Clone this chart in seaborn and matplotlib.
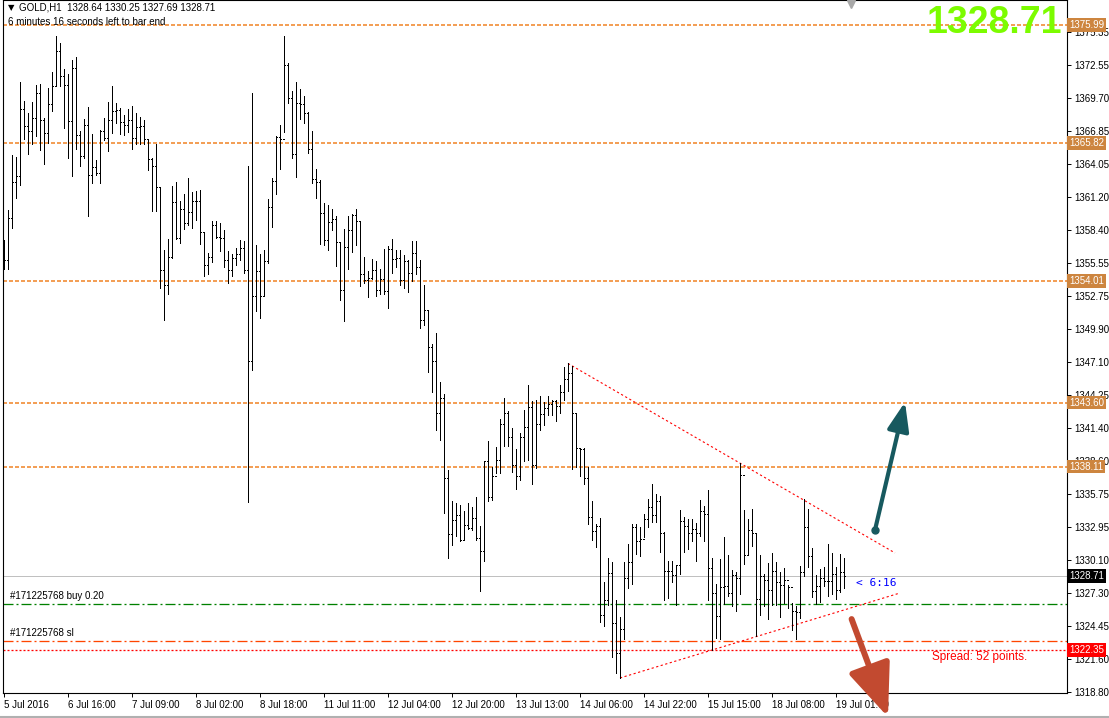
import numpy as np
import pandas as pd
import seaborn as sns
import matplotlib
matplotlib.use("Agg")
import matplotlib.pyplot as plt
import matplotlib.transforms as mtransforms
from matplotlib.lines import Line2D

# ---------------- data ----------------
highs = [1357.55, 1360.12, 1364.83, 1364.66, 1371.09, 1369.46, 1368.43, 1369.38, 1370.83, 1370.95,
         1368.03, 1370.58, 1371.95, 1375.03, 1374.43, 1372.18, 1371.81, 1372.98, 1373.23, 1366.89,
         1367.92, 1368.95, 1366.63, 1364.43, 1367.01, 1368.01, 1369.41, 1370.75, 1369.32, 1368.83,
         1368.23, 1368.75, 1369.03, 1368.43, 1368.06, 1367.83, 1366.23, 1364.55, 1365.78, 1362.09,
         1356.69, 1357.61, 1362.21, 1362.52, 1360.89, 1361.49, 1362.86, 1361.69, 1361.75, 1361.83,
         1358.21, 1356.43, 1359.15, 1359.18, 1359.03, 1358.41, 1356.61, 1356.38, 1356.89, 1357.55,
         1357.46, 1363.89, 1370.18, 1357.12, 1356.38, 1356.66, 1361.09, 1362.86, 1366.49, 1367.41,
         1375.03, 1372.75, 1370.32, 1371.09, 1370.49, 1369.89, 1368.55, 1366.89, 1363.63, 1362.66,
         1360.72, 1360.58, 1360.18, 1359.61, 1357.38, 1358.49, 1359.61, 1359.75, 1360.21, 1359.06,
         1356.09, 1354.89, 1355.92, 1355.78, 1355.01, 1356.78, 1357.03, 1357.63, 1356.66, 1356.69,
         1356.26, 1355.81, 1357.46, 1357.46, 1355.86, 1353.72, 1351.52, 1348.64, 1349.58, 1345.38,
         1344.35, 1337.81, 1335.15, 1335.01, 1334.84, 1334.32, 1335.01, 1334.67, 1335.52, 1333.04,
         1338.61, 1340.32, 1338.04, 1339.81, 1342.18, 1344.01, 1342.87, 1341.41, 1339.58, 1340.98,
         1342.98, 1345.12, 1343.72, 1343.84, 1344.18, 1343.67, 1344.18, 1343.78, 1343.81, 1345.12,
         1346.61, 1346.95, 1346.72, 1342.72, 1339.67, 1339.67, 1338.04, 1335.18, 1333.18, 1333.67,
         1328.18, 1330.29, 1329.95, 1326.69, 1325.18, 1329.89, 1331.47, 1333.18, 1333.18, 1332.89,
         1334.03, 1335.32, 1336.60, 1335.75, 1335.60, 1332.46, 1330.03, 1330.03, 1329.69, 1334.40,
         1333.80, 1333.60, 1333.60, 1333.23, 1335.26, 1334.69, 1336.12, 1330.29, 1328.03, 1330.18,
         1332.06, 1330.55, 1329.26, 1329.03, 1338.40, 1334.35, 1333.60, 1334.49, 1332.38, 1330.55,
         1328.89, 1329.80, 1330.66, 1329.92, 1329.09, 1329.40, 1327.92, 1326.43, 1326.12, 1329.60,
         1335.35, 1334.49, 1331.09, 1328.83, 1329.32, 1329.46, 1331.43, 1330.66, 1329.46, 1330.60,
         1330.25]
lows = [1355.03, 1355.03, 1358.61, 1361.18, 1362.23, 1366.23, 1364.89, 1365.81, 1366.43, 1365.23,
        1364.09, 1365.89, 1368.58, 1370.81, 1370.78, 1367.18, 1364.61, 1363.06, 1365.32, 1363.92,
        1364.61, 1359.63, 1362.46, 1363.09, 1362.46, 1366.09, 1365.21, 1366.75, 1367.61, 1366.66,
        1366.58, 1366.78, 1365.32, 1365.75, 1365.81, 1365.75, 1363.58, 1360.06, 1360.06, 1353.38,
        1350.66, 1352.95, 1356.01, 1357.61, 1357.32, 1358.46, 1358.86, 1358.61, 1359.23, 1357.23,
        1354.41, 1354.66, 1355.63, 1357.75, 1356.61, 1355.26, 1353.89, 1354.41, 1355.43, 1355.81,
        1354.75, 1335.03, 1346.43, 1351.49, 1350.89, 1352.72, 1355.55, 1358.69, 1361.52, 1363.66,
        1366.78, 1369.26, 1364.55, 1362.98, 1367.92, 1367.55, 1365.03, 1362.43, 1361.18, 1357.23,
        1357.12, 1356.69, 1358.43, 1355.32, 1352.43, 1350.55, 1355.06, 1356.55, 1357.12, 1353.61,
        1353.89, 1352.66, 1354.23, 1352.75, 1352.95, 1352.95, 1351.69, 1354.72, 1355.23, 1353.69,
        1353.46, 1353.12, 1354.03, 1354.61, 1350.03, 1350.29, 1346.18, 1344.47, 1341.21, 1340.35,
        1334.09, 1330.24, 1331.38, 1332.15, 1331.75, 1331.89, 1332.72, 1332.64, 1331.84, 1327.41,
        1330.04, 1335.18, 1335.24, 1337.58, 1337.55, 1339.84, 1339.87, 1337.61, 1336.15, 1336.95,
        1338.61, 1338.67, 1336.58, 1337.95, 1341.21, 1341.67, 1342.52, 1342.55, 1341.98, 1342.69,
        1343.84, 1344.55, 1337.87, 1338.07, 1337.27, 1336.58, 1333.15, 1331.78, 1331.18, 1324.75,
        1324.41, 1326.27, 1321.75, 1320.38, 1319.98, 1323.32, 1327.67, 1328.04, 1330.61, 1330.46,
        1332.03, 1332.89, 1333.32, 1333.32, 1330.75, 1326.66, 1326.83, 1328.18, 1326.26, 1328.89,
        1330.75, 1331.03, 1331.75, 1330.03, 1332.18, 1331.75, 1326.66, 1322.38, 1323.38, 1323.29,
        1326.29, 1327.03, 1326.18, 1325.69, 1327.18, 1329.75, 1330.60, 1331.26, 1323.55, 1325.40,
        1326.18, 1325.00, 1326.20, 1326.23, 1325.23, 1326.43, 1325.98, 1324.09, 1323.29, 1325.12,
        1328.69, 1329.46, 1326.89, 1326.32, 1326.52, 1327.89, 1326.98, 1327.18, 1326.72, 1327.38,
        1327.69]
closes = [1355.81, 1359.41, 1362.52, 1363.03, 1368.75, 1367.29, 1366.89, 1368.01, 1370.12, 1367.81,
          1366.72, 1369.21, 1370.72, 1373.72, 1371.58, 1370.83, 1367.78, 1372.26, 1366.52, 1364.75,
          1367.43, 1363.09, 1363.81, 1363.32, 1366.86, 1366.32, 1367.81, 1368.61, 1368.66, 1367.69,
          1367.38, 1367.83, 1366.26, 1367.23, 1367.29, 1366.18, 1364.46, 1363.86, 1362.09, 1354.95,
          1353.69, 1356.06, 1360.78, 1357.72, 1360.23, 1359.01, 1359.92, 1360.86, 1360.86, 1358.21,
          1355.38, 1356.09, 1358.83, 1357.81, 1357.75, 1355.81, 1354.98, 1355.98, 1356.32, 1356.86,
          1354.98, 1347.18, 1352.75, 1354.89, 1352.75, 1355.75, 1360.38, 1362.58, 1366.38, 1366.23,
          1372.55, 1369.75, 1364.89, 1369.26, 1369.18, 1368.46, 1365.32, 1362.75, 1362.49, 1359.83,
          1357.52, 1359.06, 1359.35, 1357.38, 1353.21, 1356.92, 1358.38, 1359.69, 1359.15, 1354.61,
          1354.09, 1354.29, 1354.95, 1353.29, 1354.18, 1353.18, 1356.75, 1355.89, 1356.01, 1354.09,
          1355.75, 1354.69, 1356.41, 1355.23, 1350.66, 1351.52, 1348.32, 1347.15, 1342.69, 1344.01,
          1337.12, 1332.32, 1333.55, 1333.95, 1331.81, 1333.09, 1332.81, 1333.72, 1332.01, 1330.89,
          1338.55, 1335.47, 1337.29, 1338.69, 1341.78, 1342.69, 1340.67, 1338.24, 1337.27, 1340.67,
          1341.47, 1343.24, 1338.24, 1341.78, 1342.61, 1343.15, 1343.44, 1343.75, 1343.29, 1344.49,
          1345.61, 1346.15, 1342.67, 1339.67, 1339.61, 1337.15, 1333.81, 1332.61, 1332.98, 1325.38,
          1326.67, 1328.98, 1324.69, 1322.15, 1324.21, 1328.55, 1329.89, 1332.92, 1331.69, 1331.92,
          1333.60, 1334.60, 1333.98, 1335.18, 1332.43, 1329.18, 1329.18, 1328.80, 1329.69, 1333.46,
          1333.03, 1332.40, 1332.75, 1332.38, 1334.32, 1334.00, 1329.40, 1327.26, 1325.29, 1327.80,
          1327.89, 1327.26, 1328.80, 1328.55, 1337.38, 1330.55, 1332.63, 1332.38, 1326.75, 1328.72,
          1328.40, 1327.52, 1329.18, 1328.20, 1327.98, 1328.40, 1327.80, 1325.69, 1325.63, 1329.09,
          1332.95, 1330.40, 1327.46, 1327.89, 1328.52, 1328.26, 1328.26, 1328.89, 1327.55, 1329.03,
          1328.71]
first_open = 1355.89

x_tick_bars = [0, 16, 32, 48, 64, 80, 96, 112, 128, 144, 160, 176, 192, 208]
x_tick_labels = ["5 Jul 2016", "6 Jul 16:00", "7 Jul 09:00", "8 Jul 02:00", "8 Jul 18:00",
                 "11 Jul 11:00", "12 Jul 04:00", "12 Jul 20:00", "13 Jul 13:00", "14 Jul 06:00",
                 "14 Jul 22:00", "15 Jul 15:00", "18 Jul 08:00", "19 Jul 01:00"]
y_ticks = [1318.80, 1321.60, 1324.45, 1327.30, 1330.10, 1332.95, 1335.75, 1338.60, 1341.40,
           1344.25, 1347.10, 1349.90, 1352.75, 1355.55, 1358.40, 1361.20, 1364.05, 1366.85,
           1369.70, 1372.55, 1375.35]

level_prices = [1375.99, 1365.82, 1354.01, 1343.60, 1338.11]
bid_price = 1328.71
buy_price = 1326.30
sl_price = 1323.15
ask_price = 1322.35

upper_trend_x = [141, 222.75]
upper_trend_y = [1346.95, 1330.70]
lower_trend_x = [154, 223.75]
lower_trend_y = [1319.98, 1327.24]
up_arrow_x = [217.75, 225.25]
up_arrow_y = [1332.67, 1343.64]
down_arrow_x = [211.9, 221.0]
down_arrow_y = [1325.03, 1316.63]

header = "GOLD,H1  1328.64 1330.25 1327.69 1328.71"
timer_text = "6 minutes 16 seconds left to bar end"

# ---------------- styling ----------------
sns.set_theme(style="white")
plt.rcParams['font.family'] = ['Liberation Sans', 'DejaVu Sans']
plt.rcParams['lines.scale_dashes'] = False

W, H = 1109, 718
PX = 72.0 / 100.0  # one pixel in points
fig = plt.figure(figsize=(W / 100, H / 100), dpi=100)
fig.patch.set_facecolor('white')
ax = fig.add_axes([3 / W, 25 / H, 1064 / W, 693 / H])
ax.set_facecolor('white')
ax.set_xlim(-0.25, 265.75)
ax.set_ylim(1318.69, 1378.12)

df = pd.DataFrame({'high': highs, 'low': lows, 'close': closes})
df['open'] = [first_open] + closes[:-1]
idx = np.arange(len(df))

# OHLC bars
ax.vlines(idx, df['low'], df['high'], color='black', lw=PX, antialiased=False, zorder=3)
ax.hlines(df['open'], idx - 0.26, idx, color='black', lw=PX, antialiased=False, zorder=3)
ax.hlines(df['close'], idx, idx + 0.26, color='black', lw=PX, antialiased=False, zorder=3)

# horizontal levels
ORANGE = '#F08020'
for p in level_prices:
    ax.axhline(p, color=ORANGE, lw=1.5 * PX, dashes=(4 * PX, 2 * PX), zorder=2)
ax.axhline(bid_price, color='#C0C0C0', lw=PX, zorder=1).set_snap(True)
ax.axhline(buy_price, color='#008000', lw=1.3 * PX, dashes=(10 * PX, 3 * PX, 2 * PX, 3 * PX),
           zorder=2)
ax.axhline(sl_price, color='#FF4500', lw=1.3 * PX, dashes=(10 * PX, 3 * PX, 2 * PX, 3 * PX),
           zorder=2)
ax.axhline(ask_price, color='#FF0000', lw=1.3 * PX, dashes=(2 * PX, 2 * PX), zorder=2)

# trend lines
ax.plot(upper_trend_x, upper_trend_y, color='#FF0000', lw=0.8, dashes=(1.6, 1.8), zorder=2)
ax.plot(lower_trend_x, lower_trend_y, color='#FF0000', lw=0.8, dashes=(1.6, 1.8), zorder=2)

# arrows
ax.annotate('', xy=(up_arrow_x[1], up_arrow_y[1]), xytext=(up_arrow_x[0], up_arrow_y[0]),
            arrowprops=dict(arrowstyle='-|>,head_length=1.45,head_width=0.55', lw=3.0,
                            color='#17595F', shrinkA=0, shrinkB=0, clip_on=False),
            annotation_clip=False, zorder=6)
ax.plot(up_arrow_x[0], up_arrow_y[0], marker='o', ms=5, color='#17595F', zorder=6)
ax.annotate('', xy=(down_arrow_x[1], down_arrow_y[1]), xytext=(down_arrow_x[0], down_arrow_y[0]),
            arrowprops=dict(arrowstyle='-|>,head_length=2.7,head_width=1.1', lw=4.3,
                            color='#C24A30', shrinkA=0, shrinkB=0, clip_on=False),
            annotation_clip=False, zorder=6)

# axes & ticks
for s in ax.spines.values():
    s.set_color('black')
    s.set_linewidth(0.8)
ax.yaxis.tick_right()
ax.set_yticks(y_ticks)
ax.set_yticklabels([f"{v:.2f}" for v in y_ticks])
ax.tick_params(axis='y', labelsize=7, length=3, width=0.7, pad=2, direction='out',
               colors='black', right=True, left=False)
ax.set_xticks(x_tick_bars)
ax.set_xticklabels(x_tick_labels, ha='left')
ax.tick_params(axis='x', labelsize=7, length=3, width=0.7, pad=2, direction='out',
               colors='black', bottom=True)
for lab in ax.get_xticklabels():
    lab.set_horizontalalignment('left')
ax.grid(False)

# price boxes on the scale
trans = mtransforms.blended_transform_factory(ax.transAxes, ax.transData)
for p in level_prices:
    ax.text(1.0018, p, f"{p:.2f}", transform=trans, ha='left', va='center', fontsize=7,
            color='white', clip_on=False, zorder=10,
            bbox=dict(boxstyle='square,pad=0.2', fc='#CD853F', ec='none'))
ax.text(1.0018, bid_price, f"{bid_price:.2f}", transform=trans, ha='left', va='center',
        fontsize=7, color='white', clip_on=False, zorder=10,
        bbox=dict(boxstyle='square,pad=0.2', fc='black', ec='none'))
ax.text(1.0018, ask_price, f"{ask_price:.2f}", transform=trans, ha='left', va='center',
        fontsize=7, color='white', clip_on=False, zorder=10,
        bbox=dict(boxstyle='square,pad=0.2', fc='#FF0000', ec='none'))

# texts
fig.text(8 / W, 1 - 8 / H, "▼", fontsize=6, color='black', va='center', ha='left',
         family=['DejaVu Sans'])
fig.text(19 / W, 1 - 8 / H, header, fontsize=7, color='black', va='center', ha='left')
fig.text(8 / W, 1 - 22 / H, timer_text, fontsize=7, color='black', va='center', ha='left')
fig.text(1062 / W, 1 - 23 / H, f"{bid_price:.2f}", fontsize=27, fontweight='bold',
         color='#7CFC00', va='center', ha='right')
ax.text(0.0065, buy_price + 0.25, "#171225768 buy 0.20", transform=trans, fontsize=7,
        color='black', va='bottom', ha='left')
ax.text(0.0065, sl_price + 0.25, "#171225768 sl", transform=trans, fontsize=7,
        color='black', va='bottom', ha='left')
ax.text(213, 1328.15, "< 6:16", fontsize=8, color='#0000FF', va='center', ha='left',
        family=['DejaVu Sans Mono'])
ax.text(0.873, 1321.75, "Spread: 52 points.", transform=trans, fontsize=8.5,
        color='#FF0000', va='center', ha='left')

# chart-shift marker and window edge
ax.plot(211.75, 1377.75, marker='v', ms=6, color='#A8A8A8', clip_on=False, zorder=7)
fig.add_artist(Line2D([0, 1], [1.2 / H, 1.2 / H], color='#B0B0B0', lw=1.5))

fig.savefig("out.png", dpi=100, facecolor='white')
